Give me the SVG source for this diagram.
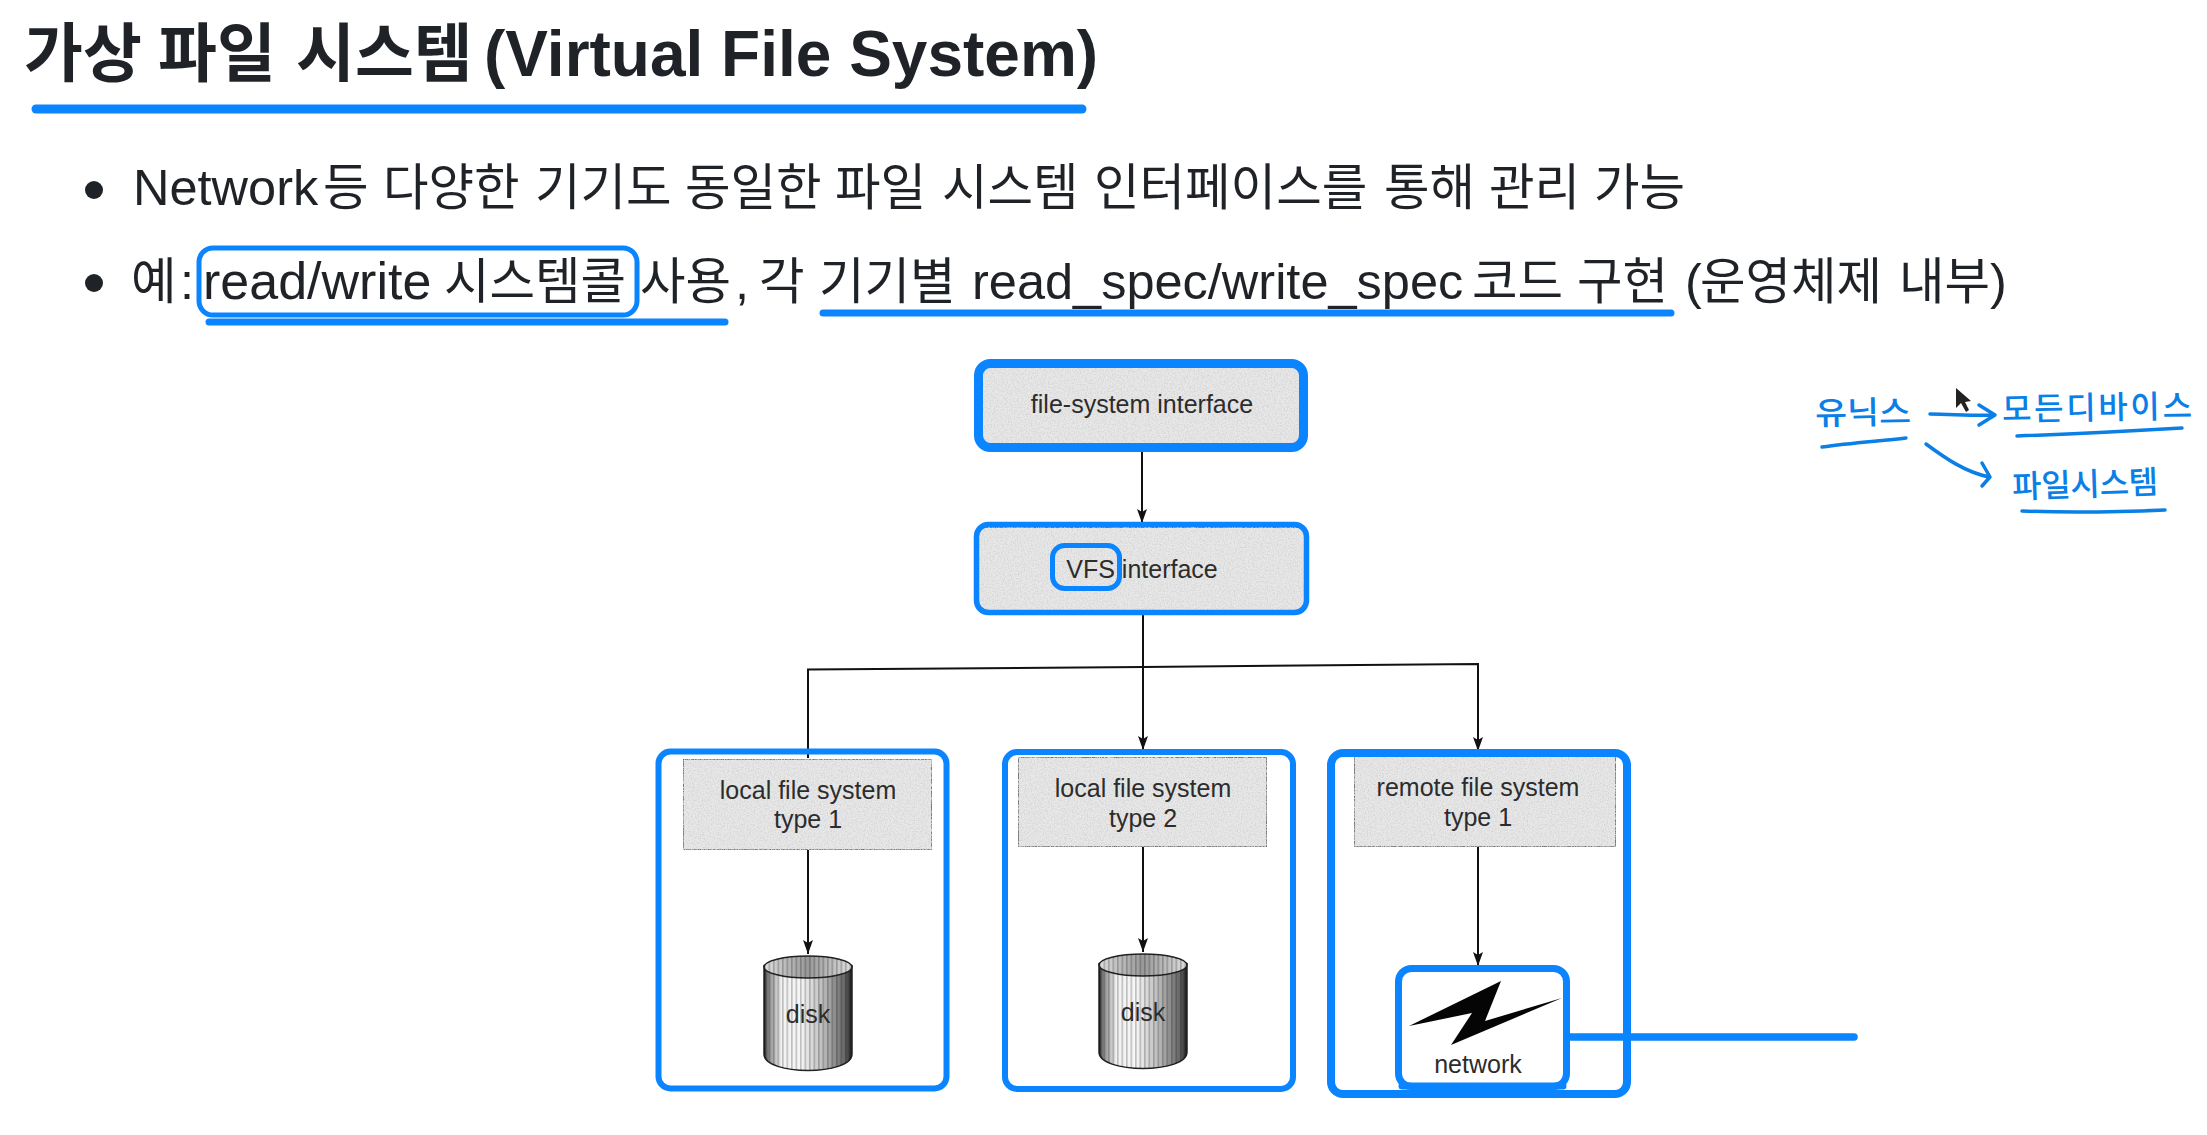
<svg xmlns="http://www.w3.org/2000/svg" width="2207" height="1135" viewBox="0 0 2207 1135">
<style>
text{font-family:"Liberation Sans","Noto Sans CJK KR",sans-serif}
.k{font-family:"Noto Sans CJK KR","Noto Sans",sans-serif}
.title{font-size:64px;font-weight:700;fill:#1f2328}
.title .k{font-size:64px;font-weight:700}
.line{font-size:50.5px;fill:#1f2328}
.line .k{font-size:49.500px;font-weight:400}
.lab{font-size:25px;fill:#2c2c2c;text-anchor:middle}
.hand{font-size:32px;font-weight:500;fill:#0a7fe6;font-family:"Noto Sans CJK KR",sans-serif}
.gray{fill:#e8e8e8;stroke:#555;stroke-width:1.500}
.mark{fill:none;stroke:#0a84ff;stroke-linejoin:round}
.ul{fill:none;stroke:#0a84ff;stroke-linecap:round}
.conn{fill:none;stroke:#111;stroke-width:2}
.pen{fill:none;stroke:#0a7fe6;stroke-width:3.500;stroke-linecap:round;stroke-linejoin:round}
</style>
<defs>
<marker id="ah" markerUnits="userSpaceOnUse" markerWidth="14" markerHeight="12" refX="14" refY="6" orient="auto" viewBox="0 0 14 12"><path d="M0 1L3 6L0 11L14 6Z" fill="#111"/></marker>
<linearGradient id="cyl" x1="0" x2="1" y1="0" y2="0">
<stop offset="0" stop-color="#222"/><stop offset=".05" stop-color="#888"/><stop offset=".2" stop-color="#f2f2f2"/><stop offset=".42" stop-color="#f6f6f6"/><stop offset=".68" stop-color="#bbb"/><stop offset=".92" stop-color="#666"/><stop offset="1" stop-color="#222"/>
</linearGradient>
<linearGradient id="cap" x1="0" x2="1" y1="0" y2="0">
<stop offset="0" stop-color="#ddd"/><stop offset=".5" stop-color="#999"/><stop offset="1" stop-color="#ddd"/>
</linearGradient>
<pattern id="stripes" width="4.500" height="10" patternUnits="userSpaceOnUse"><rect width="1.600" height="10" fill="#000" opacity=".22"/></pattern>
<filter id="speck" x="0" y="0" width="100%" height="100%">
<feTurbulence type="fractalNoise" baseFrequency=".7" numOctaves="2" seed="4" result="n"/>
<feColorMatrix in="n" type="matrix" values="0 0 0 0 .68  0 0 0 0 .68  0 0 0 0 .68  3 0 0 0 -1.200" result="d"/>
<feComposite in="d" in2="SourceGraphic" operator="atop"/>
</filter>
<g id="disk">
<path d="M0 10V98C0 120 88 120 88 98V10Z" fill="url(#cyl)" stroke="#222" stroke-width="1.500"/>
<path d="M0 10V98C0 120 88 120 88 98V10Z" fill="url(#stripes)"/>
<ellipse cx="44" cy="11" rx="44" ry="11" fill="url(#cap)" stroke="#222" stroke-width="1.500"/>
<ellipse cx="44" cy="11" rx="44" ry="11" fill="url(#stripes)"/>
</g>
</defs>
<rect width="2207" height="1135" fill="#fff"/>

<g id="heading">
<text class="title" y="76"><tspan class="k" x="24">가상</tspan><tspan class="k" x="158">파일</tspan><tspan class="k" x="296">시스템</tspan><tspan x="484">(Virtual File System)</tspan></text>
<line class="ul" x1="36" y1="109" x2="1082" y2="109" stroke-width="9"/>
</g>

<g id="bullets">
<circle cx="94" cy="190" r="9" fill="#1f2328"/>
<text class="line" y="205"><tspan x="133">Network</tspan><tspan class="k" x="323">등</tspan><tspan class="k" x="383">다양한</tspan><tspan class="k" x="535">기기도</tspan><tspan class="k" x="685">동일한</tspan><tspan class="k" x="835">파일</tspan><tspan class="k" x="942">시스템</tspan><tspan class="k" x="1094">인터페이스를</tspan><tspan class="k" x="1384">통해</tspan><tspan class="k" x="1489">관리</tspan><tspan class="k" x="1594">가능</tspan></text>
<circle cx="94" cy="283" r="9" fill="#1f2328"/>
<text class="line" y="299"><tspan class="k" x="131">예</tspan><tspan x="180">:</tspan><tspan x="203" font-size="52">read/write</tspan><tspan class="k" x="444">시스템콜</tspan><tspan class="k" x="640">사용</tspan><tspan x="735">,</tspan><tspan class="k" x="759">각</tspan><tspan class="k" x="819">기기별</tspan><tspan x="972">read_spec/write_spec</tspan><tspan class="k" x="1472">코드</tspan><tspan class="k" x="1577">구현</tspan><tspan x="1685">(</tspan><tspan class="k" x="1700">운영체제</tspan><tspan class="k" x="1899">내부</tspan><tspan x="1990">)</tspan></text>
<rect class="mark" x="199" y="248" width="438" height="67" rx="14" stroke-width="5"/>
<line class="ul" x1="209" y1="322" x2="725" y2="322" stroke-width="7"/>
<line class="ul" x1="823" y1="313" x2="1671" y2="313" stroke-width="7"/>
</g>

<g id="connectors">
<line class="conn" x1="1142" y1="452" x2="1142" y2="523" marker-end="url(#ah)"/>
<path class="conn" d="M1143 615V750" marker-end="url(#ah)"/>
<path class="conn" d="M808 758V669.500L1143 667L1478 664V751" marker-end="url(#ah)"/>
<line class="conn" x1="808" y1="850" x2="808" y2="954" marker-end="url(#ah)"/>
<line class="conn" x1="1143" y1="847" x2="1143" y2="952" marker-end="url(#ah)"/>
<line class="conn" x1="1478" y1="847" x2="1478" y2="966" marker-end="url(#ah)"/>
</g>

<g id="node-file-system-interface">
<rect class="gray" x="980" y="366" width="322" height="78" filter="url(#speck)"/>
<text class="lab" x="1142" y="413">file-system interface</text>
<rect class="mark" x="978.500" y="363.500" width="325" height="84" rx="12" stroke-width="9"/>
</g>

<g id="node-vfs-interface">
<rect class="gray" x="978" y="527" width="327" height="84" filter="url(#speck)"/>
<text class="lab" x="1142" y="578">VFS interface</text>
<rect class="mark" x="976.500" y="524.500" width="330" height="88" rx="12" stroke-width="5.500"/>
<rect class="mark" x="1052.500" y="545.500" width="67" height="43" rx="12" stroke-width="5"/>
</g>

<g id="node-local-1">
<rect class="gray" x="683" y="759" width="249" height="91" filter="url(#speck)"/>
<text class="lab"><tspan x="808" y="799">local file system</tspan><tspan x="808" y="828">type 1</tspan></text>
<rect class="mark" x="658.500" y="751.500" width="288" height="337" rx="12" stroke-width="6"/>
</g>

<g id="node-local-2">
<rect class="gray" x="1018" y="757" width="249" height="90" filter="url(#speck)"/>
<text class="lab"><tspan x="1143" y="797">local file system</tspan><tspan x="1143" y="827">type 2</tspan></text>
<rect class="mark" x="1005" y="752" width="288" height="337" rx="12" stroke-width="6"/>
</g>

<g id="node-remote-1">
<rect class="gray" x="1354" y="756" width="262" height="91" filter="url(#speck)"/>
<text class="lab"><tspan x="1478" y="796">remote file system</tspan><tspan x="1478" y="826">type 1</tspan></text>
<rect class="mark" x="1331" y="753" width="296" height="341" rx="12" stroke-width="8"/>
</g>

<g id="node-disk-1">
<use href="#disk" x="764" y="956"/>
<text class="lab" x="808" y="1023">disk</text>
</g>

<g id="node-disk-2">
<use href="#disk" x="1099" y="954"/>
<text class="lab" x="1143" y="1021">disk</text>
</g>

<g id="node-network">
<polygon points="1409,1026 1501,981 1485,1021 1562,998 1451,1045 1472,1013" fill="#050505"/>
<text class="lab" x="1478" y="1073">network</text>
<rect class="mark" x="1398.500" y="968.500" width="168" height="118" rx="13" stroke-width="7"/>
<path d="M1402 1086H1563" class="ul" stroke-width="7"/>
<line class="ul" x1="1570" y1="1037" x2="1854" y2="1037" stroke-width="7.500"/>
</g>

<g id="notes">
<text class="hand" x="1815" y="424" textLength="96" lengthAdjust="spacingAndGlyphs" transform="rotate(-1 1860 410)">유닉스</text>
<text class="hand" x="2002" y="419" textLength="190" lengthAdjust="spacing" transform="rotate(-1 2100 410)">모든디바이스</text>
<text class="hand" x="2012" y="496" textLength="146" lengthAdjust="spacing" transform="rotate(-2 2080 480)">파일시스템</text>
<path class="pen" d="M1822 447C1850 443 1880 441 1906 438"/>
<path class="pen" d="M2017 436C2070 434 2130 431 2182 428"/>
<path class="pen" d="M2022 511C2070 513 2120 512 2165 510"/>
<path class="pen" d="M1930 414C1950 414 1975 416 1994 415M1979 405L1995 415L1979 425"/>
<path class="pen" d="M1926 444C1945 458 1965 472 1989 477M1982 463L1990 477L1982 486"/>
<polygon points="1956,388 1956,408 1961,403 1966,412 1969,410 1965,402 1971,401" fill="#222"/>
</g>
</svg>
